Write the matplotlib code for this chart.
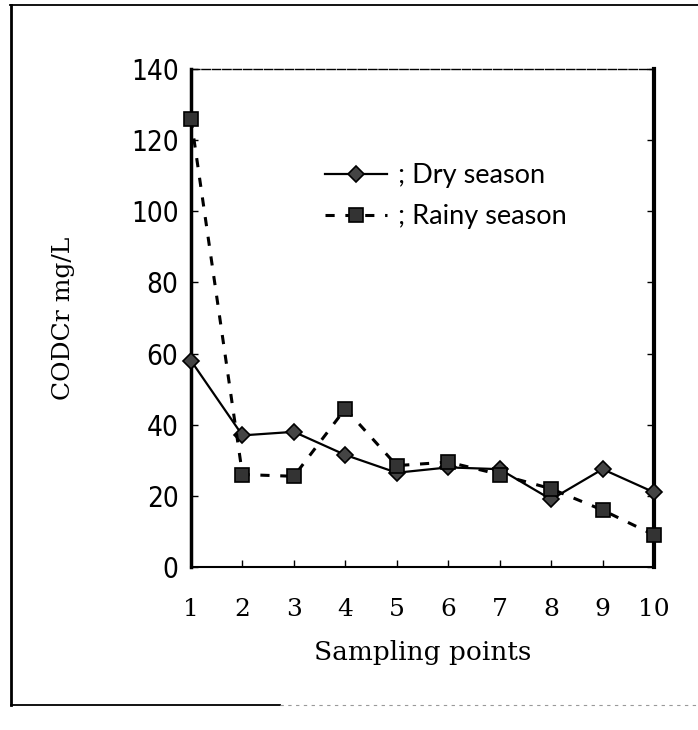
import matplotlib
matplotlib.use("Agg")
import matplotlib.pyplot as plt
from matplotlib.lines import Line2D

# valores
puntos = [1, 2, 3, 4, 5, 6, 7, 8, 9, 10]
seca = [58, 37, 38, 31.5, 26.5, 28, 27.5, 19, 27.5, 21]
lluvia = [126, 26, 25.5, 44.5, 28.5, 29.5, 26, 22, 16, 9]
yticks = [0, 20, 40, 60, 80, 100, 120, 140]

fig = plt.figure(figsize=(6.98, 7.30), dpi=100)
ax = fig.add_axes([191/698, 1 - 567/730, 463/698, 498/730])

ax.plot(puntos, seca, color="black", linestyle="-", linewidth=1.6,
        marker="D", markersize=8.5, markerfacecolor="#444444",
        markeredgecolor="black", markeredgewidth=1.2, label="; Dry season",
        clip_on=False, zorder=3)
ax.plot(puntos, lluvia, color="black", linestyle=(0, (3, 3.5)), linewidth=2.2,
        marker="s", markersize=10, markerfacecolor="#333333",
        markeredgecolor="black", markeredgewidth=1.2, label="; Rainy season",
        clip_on=False, zorder=3)

ax.set_xlim(1, 10)
ax.set_ylim(0, 140)
ax.set_xticks(puntos)
ax.set_yticks(yticks)

for lab in ax.get_xticklabels():
    lab.set_fontfamily("DejaVu Serif")
    lab.set_fontsize(18)
for lab in ax.get_yticklabels():
    lab.set_fontfamily("DejaVu Sans")
    lab.set_fontstretch("condensed")
    lab.set_fontsize(20)

ax.tick_params(axis="x", direction="in", length=5, width=1, pad=22)
ax.tick_params(axis="y", direction="in", length=5, width=1, pad=9,
               right=True)

ax.spines["left"].set_linewidth(2.5)
ax.spines["right"].set_linewidth(3)
ax.spines["bottom"].set_linewidth(1.5)
ax.spines["top"].set_linewidth(1)
ax.spines["top"].set_linestyle((0, (6, 1.5)))

ax.set_xlabel("Sampling points", fontfamily="DejaVu Serif", fontsize=19,
              labelpad=14)
ax.set_ylabel("CODCr mg/L", fontfamily="DejaVu Serif", fontsize=18,
              labelpad=40)

ax.legend(loc="upper left", bbox_to_anchor=(325/698, 1 - 163/730),
          bbox_transform=fig.transFigure, frameon=False,
          prop={"family": "Lato", "size": 19.5}, handlelength=2.3,
          handletextpad=0.4, labelspacing=0.6, borderpad=0,
          borderaxespad=0)

# marco exterior
fig.add_artist(Line2D([10/698, 1], [1 - 5/730, 1 - 5/730], color="black",
                      linewidth=1.3, transform=fig.transFigure))
fig.add_artist(Line2D([11/698, 11/698], [1 - 5/730, 1 - 705/730],
                      color="black", linewidth=2, transform=fig.transFigure))
fig.add_artist(Line2D([11/698, 280/698], [1 - 705/730, 1 - 705/730],
                      color="black", linewidth=1.3, transform=fig.transFigure))
fig.add_artist(Line2D([280/698, 1], [1 - 705/730, 1 - 705/730],
                      color="#999999", linewidth=0.8, linestyle=(0, (3, 4)),
                      transform=fig.transFigure))

fig.savefig("out.png", dpi=100)
